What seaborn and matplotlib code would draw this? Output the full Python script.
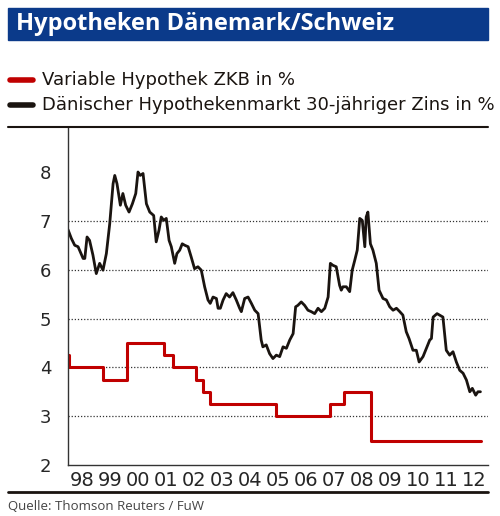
import seaborn as sns
import pandas as pd
import matplotlib.pyplot as plt
from matplotlib.lines import Line2D
from matplotlib.patches import Rectangle

# Dänischer Hypothekenmarkt 30-jähriger Zins (decimal year, %)
dk_year = [1998.00, 1998.12, 1998.24, 1998.36, 1998.54, 1998.60, 1998.68, 1998.77, 1998.89, 1999.01,
           1999.13, 1999.25, 1999.37, 1999.49, 1999.61, 1999.67, 1999.75, 1999.87, 1999.96, 2000.06,
           2000.18, 2000.30, 2000.42, 2000.50, 2000.58, 2000.68, 2000.80, 2000.92, 2001.06, 2001.15,
           2001.25, 2001.33, 2001.42, 2001.51, 2001.61, 2001.69, 2001.81, 2001.89, 2001.99, 2002.08,
           2002.17, 2002.29, 2002.40, 2002.52, 2002.64, 2002.76, 2002.88, 2003.00, 2003.08, 2003.18,
           2003.30, 2003.36, 2003.44, 2003.54, 2003.65, 2003.77, 2003.89, 2004.01, 2004.13, 2004.19,
           2004.31, 2004.43, 2004.55, 2004.67, 2004.79, 2004.90, 2004.96, 2005.08, 2005.20, 2005.32,
           2005.44, 2005.56, 2005.68, 2005.80, 2005.92, 2006.04, 2006.13, 2006.21, 2006.33, 2006.45,
           2006.57, 2006.69, 2006.81, 2006.93, 2007.05, 2007.17, 2007.29, 2007.37, 2007.46, 2007.58,
           2007.70, 2007.76, 2007.82, 2007.94, 2008.06, 2008.15, 2008.24, 2008.33, 2008.42, 2008.51,
           2008.60, 2008.65, 2008.71, 2008.80, 2008.89, 2009.01, 2009.11, 2009.25, 2009.37, 2009.49,
           2009.61, 2009.73, 2009.85, 2009.96, 2010.08, 2010.18, 2010.32, 2010.44, 2010.54, 2010.68,
           2010.80, 2010.92, 2010.98, 2011.04, 2011.18, 2011.27, 2011.39, 2011.51, 2011.63, 2011.75,
           2011.87, 2011.99, 2012.11, 2012.23, 2012.35, 2012.44, 2012.56, 2012.64, 2012.73]
dk_rate = [6.82, 6.64, 6.50, 6.47, 6.23, 6.23, 6.67, 6.60, 6.30, 5.92,
           6.13, 5.99, 6.33, 6.94, 7.76, 7.93, 7.76, 7.32, 7.56, 7.32,
           7.18, 7.35, 7.56, 8.00, 7.93, 7.97, 7.35, 7.18, 7.11, 6.57,
           6.81, 7.08, 7.01, 7.05, 6.60, 6.47, 6.13, 6.33, 6.40, 6.53,
           6.50, 6.47, 6.26, 6.02, 6.06, 5.99, 5.65, 5.38, 5.31, 5.44,
           5.41, 5.21, 5.21, 5.38, 5.51, 5.44, 5.53, 5.38, 5.21, 5.14,
           5.41, 5.44, 5.31, 5.17, 5.10, 4.56, 4.42, 4.46, 4.28, 4.18,
           4.25, 4.22, 4.42, 4.39, 4.56, 4.69, 5.24, 5.27, 5.34, 5.27,
           5.17, 5.14, 5.10, 5.21, 5.14, 5.21, 5.44, 6.13, 6.09, 6.06,
           5.68, 5.58, 5.65, 5.65, 5.55, 5.99, 6.19, 6.40, 7.05, 7.01,
           6.47, 7.08, 7.18, 6.53, 6.40, 6.13, 5.58, 5.41, 5.38, 5.24,
           5.17, 5.21, 5.14, 5.07, 4.73, 4.59, 4.35, 4.35, 4.11, 4.22,
           4.39, 4.56, 4.59, 5.03, 5.10, 5.07, 5.03, 4.35, 4.25, 4.32,
           4.11, 3.94, 3.88, 3.74, 3.50, 3.57, 3.43, 3.50, 3.50]

# Variable Hypothek ZKB (step changes)
zkb_year = [1998.00, 1998.05, 1999.25, 2000.12, 2001.43, 2001.75, 2002.58, 2002.82, 2003.08,
            2005.44, 2007.35, 2007.85, 2008.83, 2012.76]
zkb_rate = [4.25, 4.00, 3.75, 4.50, 4.25, 4.00, 3.75, 3.50, 3.25,
            3.00, 3.25, 3.50, 2.50, 2.50]

year_labels = ['98', '99', '00', '01', '02', '03', '04', '05', '06', '07', '08', '09', '10', '11', '12']

dk = pd.DataFrame({'year': dk_year, 'rate': dk_rate})
zkb = pd.DataFrame({'year': zkb_year, 'rate': zkb_rate})

sns.set_style('white')
plt.rcParams['font.family'] = ['Liberation Sans Narrow', 'DejaVu Sans']

RED = '#c00000'
BLACK = '#1a1410'
BLUE = '#0b3a8a'

fig = plt.figure(figsize=(5, 5.16), dpi=100)
ax = fig.add_axes([0.136, 0.0988, 0.84, 0.653])

sns.lineplot(data=zkb, x='year', y='rate', ax=ax, color=RED, lw=2.2, drawstyle='steps-post')
sns.lineplot(data=dk, x='year', y='rate', ax=ax, color=BLACK, lw=2.0)

ax.set_xlim(1998, 2013)
ax.set_ylim(2, 8.9)
for v in [3, 4, 5, 6, 7]:
    ax.axhline(v, color='#333333', lw=0.9, ls=(0, (1, 1.5)), zorder=0)

ax.set_yticks([2, 3, 4, 5, 6, 7, 8])
ax.set_yticks([2 + 0.2 * i for i in range(35)], minor=True)
ax.tick_params(axis='y', which='major', length=4, labelsize=13, pad=12, color='#333333', direction='in')
ax.tick_params(axis='y', which='minor', length=2, direction='in', color='#666666')

ax.set_xticks(range(1998, 2014))
ax.set_xticklabels([])
ax.set_xticks([1998.5 + i for i in range(15)], minor=True)
ax.set_xticklabels(year_labels, minor=True)
ax.tick_params(axis='x', which='major', length=5, direction='in', color='#333333')
ax.tick_params(axis='x', which='minor', length=0, labelsize=14, pad=4)

ax.set_xlabel('')
ax.set_ylabel('')
for s in ['top', 'right']:
    ax.spines[s].set_visible(False)
for s in ['left', 'bottom']:
    ax.spines[s].set_color('#333333')
    ax.spines[s].set_linewidth(1.0)

# title bar
fig.patches.append(Rectangle((8 / 500, 1 - 40 / 516), 480 / 500, 32 / 516,
                             transform=fig.transFigure, color=BLUE, zorder=0))
fig.text(16 / 500, 1 - 24 / 516, 'Hypotheken Dänemark/Schweiz', color='white',
         fontsize=17, fontweight='bold', va='center', family=['Open Sans', 'DejaVu Sans'])

# legend
for yy, col, lab in [(80, RED, 'Variable Hypothek ZKB in %'),
                     (105, BLACK, 'Dänischer Hypothekenmarkt 30-jähriger Zins in %')]:
    fig.add_artist(Line2D([10 / 500, 33 / 500], [1 - yy / 516] * 2, color=col, lw=4,
                          solid_capstyle='round', transform=fig.transFigure))
    fig.text(42 / 500, 1 - yy / 516, lab, fontsize=13, va='center', color=BLACK)

fig.add_artist(Line2D([8 / 500, 488 / 500], [1 - 127 / 516] * 2, color=BLACK, lw=1.5,
                      transform=fig.transFigure))
fig.add_artist(Line2D([8 / 500, 488 / 500], [1 - 492 / 516] * 2, color=BLACK, lw=2,
                      transform=fig.transFigure))
fig.text(8 / 500, 1 - 507 / 516, 'Quelle: Thomson Reuters / FuW', fontsize=9.5,
         va='center', color='#444444', family=['Open Sans', 'DejaVu Sans'])

fig.savefig('out.png', dpi=100)
